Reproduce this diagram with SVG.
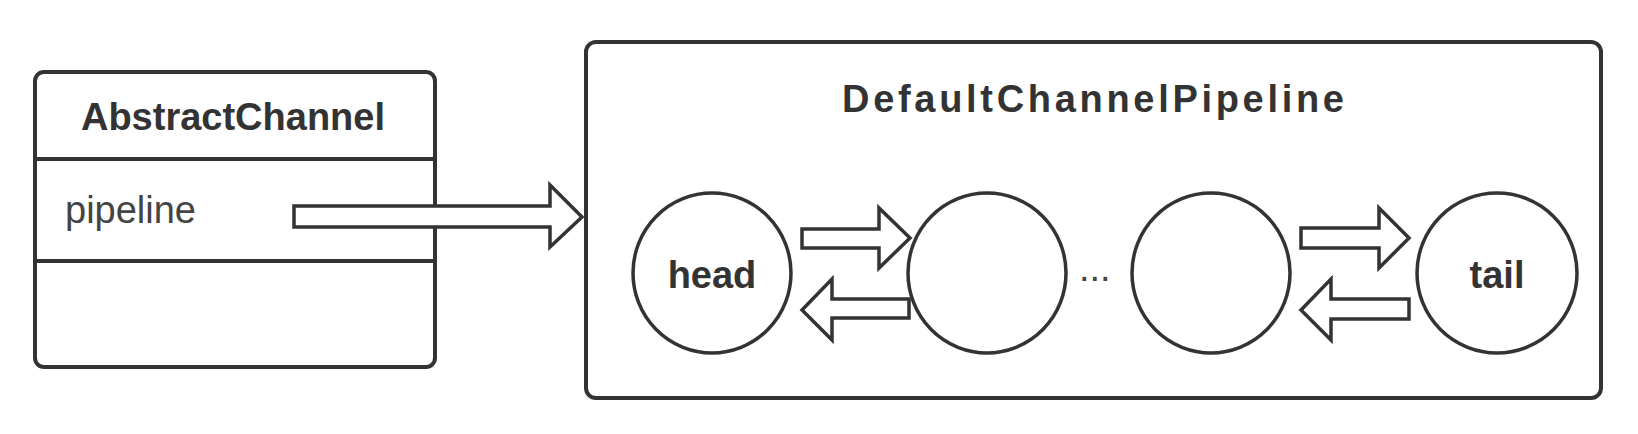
<svg xmlns="http://www.w3.org/2000/svg" width="1638" height="434" viewBox="0 0 1638 434">
<style>
.box{fill:#fff;stroke:#333;stroke-width:4}
.div{stroke:#333;stroke-width:4;fill:none}
.node{fill:#fff;stroke:#333;stroke-width:3.5}
.arr{fill:#fff;stroke:#333;stroke-width:3.5;stroke-linejoin:miter}
.t{font-family:"Liberation Sans",Arial,sans-serif;fill:#333}
.b{font-weight:bold;font-size:38px}
.r{font-size:38px;fill:#444}
</style>
<rect width="1638" height="434" fill="#fff"/>
<g id="AbstractChannel">
<rect class="box" x="35" y="72" width="400" height="295" rx="9"/>
<line class="div" x1="35" y1="159" x2="435" y2="159"/>
<line class="div" x1="35" y1="261" x2="435" y2="261"/>
<text class="t b" x="233" y="130" text-anchor="middle">AbstractChannel</text>
<text class="t r" x="65" y="223">pipeline</text>
</g>
<g id="DefaultChannelPipeline">
<rect class="box" x="586" y="42" width="1015" height="356" rx="10"/>
<text class="t b" x="842" y="112" textLength="502" lengthAdjust="spacing">DefaultChannelPipeline</text>
</g>
<g id="head">
<ellipse class="node" cx="712" cy="273" rx="79" ry="80"/>
<text class="t b" x="712" y="288" text-anchor="middle">head</text>
</g>
<g id="handler1">
<ellipse class="node" cx="987" cy="273" rx="79" ry="80"/>
</g>
<g id="ellipsis">
<text class="t r" x="1079" y="281">...</text>
</g>
<g id="handler2">
<ellipse class="node" cx="1211" cy="273" rx="79" ry="80"/>
</g>
<g id="tail">
<ellipse class="node" cx="1497" cy="273" rx="80" ry="80"/>
<text class="t b" x="1497" y="288" text-anchor="middle">tail</text>
</g>
<g id="connectors">
<polygon class="arr" points="294,206 550,206 550,185 582,217 550,247 550,227 294,227"/>
<polygon class="arr" points="802,229 879,229 879,208 910,238 879,268 879,248 802,248"/>
<polygon class="arr" points="909,299 832,299 832,279 802,310 832,340 832,318 909,318"/>
<polygon class="arr" points="1301,228 1379,228 1379,208 1409,238 1379,268 1379,248 1301,248"/>
<polygon class="arr" points="1409,299 1331,299 1331,279 1301,310 1331,340 1331,319 1409,319"/>
</g>
</svg>
